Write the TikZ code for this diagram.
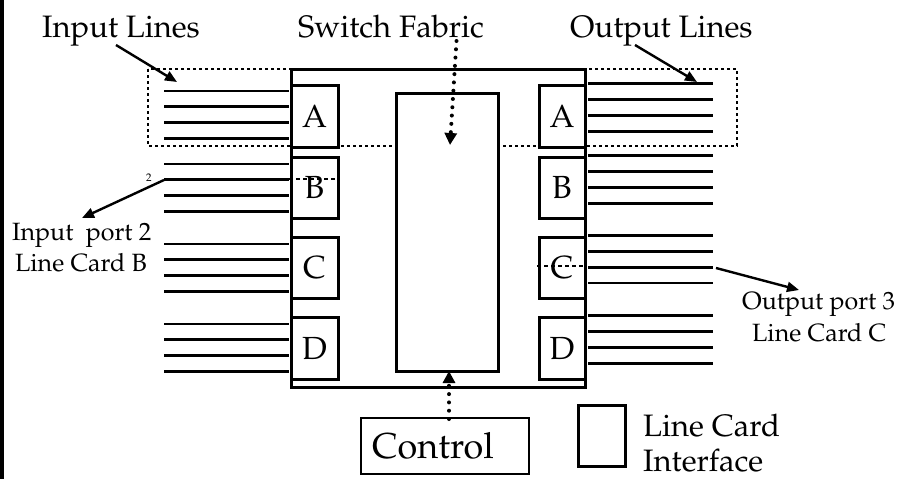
\documentclass[tikz,border=0pt]{standalone}
\usepackage[T1]{fontenc}
\renewcommand{\rmdefault}{ppl}
\usetikzlibrary{arrows.meta}
\begin{document}
\begin{tikzpicture}[x=1pt,y=-1pt,
  hline/.style={line width=2.9pt},
  card/.style={draw,line width=3pt,fill=white,inner sep=0pt,font=\fontsize{32}{34}\selectfont},
  lbl/.style={inner sep=0pt,anchor=base west,font=\fontsize{31}{33}\selectfont},
  slbl/.style={inner sep=0pt,anchor=base west,font=\fontsize{25}{27}\selectfont},
  arr/.style={line width=2.4pt,-{Triangle[length=12pt,width=10pt]}},
  dotarr/.style={line width=4pt,line cap=round,dash pattern=on 0pt off 8.3pt,-{Triangle[length=12pt,width=12pt]}},
  dotbox/.style={line width=2.8pt,dash pattern=on 2.6pt off 3.4pt},
  thindash/.style={line width=1.2pt,dash pattern=on 4pt off 3pt}
]
\useasboundingbox (0,0) rectangle (907,479);
% left border
\draw[line width=3.2pt] (2,0) -- (2,479);
% dotted highlight rectangle
\draw[dotbox] (148,69) rectangle (737,146);
% outer switch box
\node[draw,line width=3pt,minimum width=294pt,minimum height=318pt,inner sep=0pt] (sw) at (438,228) {};
% fabric
\node[draw,line width=3pt,fill=white,minimum width=102pt,minimum height=278pt,inner sep=0pt] (fab) at (447,232) {};
% input lines
\foreach \s in {91,164,244,324}{
  \foreach \k in {0,1,2,3}{
    \draw[hline] (164,\s+15.9*\k) -- (289,\s+15.9*\k);
  }
}
% output lines
\foreach \s in {83.7,155.7,235.3,315.7}{
  \foreach \k in {0,1,2,3}{
    \draw[hline] (588,\s+15.9*\k) -- (713,\s+15.9*\k);
  }
}
% line cards
\node[card,minimum width=47pt,minimum height=62pt] (LA) at (314.5,116) {A};
\node[card,minimum width=47pt,minimum height=61pt] (LB) at (314.5,187.5) {B};
\node[card,minimum width=47pt,minimum height=61pt] (LC) at (314.5,267.5) {C};
\node[card,minimum width=47pt,minimum height=62pt] (LD) at (314.5,348) {D};
\node[card,minimum width=46pt,minimum height=62pt] (RA) at (562,116) {A};
\node[card,minimum width=46pt,minimum height=61pt] (RB) at (562,187.5) {B};
\node[card,minimum width=46pt,minimum height=61pt] (RC) at (562,267.5) {C};
\node[card,minimum width=46pt,minimum height=62pt] (RD) at (562,348) {D};
% dashed paths through cards
\coordinate (d1) at (289,179);
\coordinate (d2) at (LB.east |- d1);
\draw[thindash] (d1) -- (d2);
\coordinate (d3) at (537,266);
\coordinate (d4) at (RC.east |- d3);
\draw[thindash] (d3) -- (d4);
% labels
\node[lbl] (tin) at (42,37) {Input Lines};
\node[lbl] (tsf) at (298,37) {Switch Fabric};
\node[lbl] (tout) at (570,37) {Output Lines};
\node[inner sep=0pt,anchor=base west,font=\fontsize{11}{12}\selectfont] (two) at (146,181.5) {2};
\node[slbl] (tip2a) at (12,240) {Input\ \ port 2};
\node[slbl] (tip2b) at (15,271.7) {Line Card B};
\node[slbl] (top3a) at (742,309) {Output port 3};
\node[slbl] (top3b) at (752,341) {Line Card C};
% control
\node[draw,line width=1.4pt,minimum width=168pt,minimum height=56pt,inner sep=0pt] (ctrl) at (445,446) {};
\node[inner sep=0pt,anchor=base west,font=\fontsize{36}{38}\selectfont] (ctrltxt) at (372,458) {Control};
% legend
\node[draw,line width=3pt,minimum width=47pt,minimum height=61pt,inner sep=0pt] (leg) at (601.5,436) {};
\node[lbl] (leg1) at (643,436.7) {Line Card};
\node[lbl] (leg2) at (643,471) {Interface};
% arrows
\coordinate (a1s) at (116,45);
\coordinate (a1e) at (177,82);
\draw[arr] (a1s) -- (a1e);
\coordinate (a2s) at (635,45);
\coordinate (a2e) at (697,82);
\draw[arr] (a2s) -- (a2e);
\coordinate (a3s) at (164,180);
\coordinate (a3e) at (82,218);
\draw[arr] (a3s) -- (a3e);
\coordinate (a4s) at (716,268);
\coordinate (a4e) at (799,290);
\draw[arr] (a4s) -- (a4e);
% dotted arrows
\coordinate (sfs) at (456.5,41);
\coordinate (sfe) at (450,145);
\draw[dotarr] (sfs) -- (sfe);
\coordinate (cs) at (449,419);
\coordinate (ce) at (449,371);
\draw[dotarr] (cs) -- (ce);
\end{tikzpicture}
\end{document}
